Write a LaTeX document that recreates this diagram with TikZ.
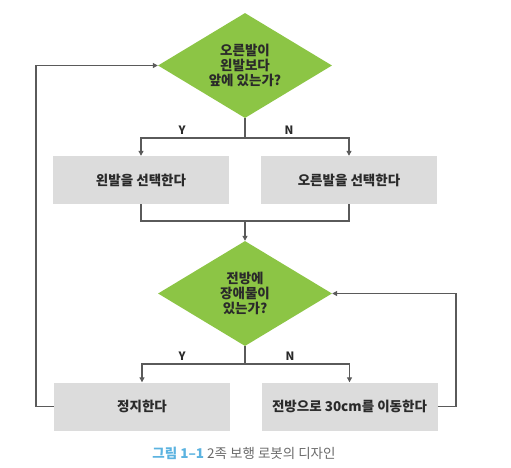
\documentclass[tikz,border=0pt]{standalone}
\usepackage{fontspec}
\setmainfont{Noto Sans CJK KR}
\usetikzlibrary{shapes.geometric,arrows.meta}
\definecolor{dgreen}{HTML}{8CC545}
\definecolor{boxgray}{HTML}{DCDCDC}
\definecolor{linegray}{HTML}{5A5A5A}
\definecolor{txt}{HTML}{2A2A2A}
\definecolor{capblue}{HTML}{5CB3E0}
\definecolor{capgray}{HTML}{6A6A6A}
\tikzset{
  decision/.style={diamond, fill=dgreen, minimum width=174pt, minimum height=105pt, inner sep=0pt, aspect=1.657, align=center, font=\fontsize{13.5}{15}\selectfont\bfseries, text=txt},
  actbox/.style={rectangle, fill=boxgray, minimum width=176pt, minimum height=48pt, inner sep=0pt, font=\fontsize{13.5}{15}\selectfont\bfseries, text=txt},
  conn/.style={draw=linegray, line width=1.1pt},
  arr/.style={conn, -{Triangle[length=5pt,width=5pt]}},
  yn/.style={font=\fontsize{11.5}{13}\selectfont\bfseries, text=txt, inner sep=0pt}
}
\begin{document}
\begin{tikzpicture}[x=1pt,y=-1pt]
\useasboundingbox (0,0) rectangle (511,467);
\node[decision] (d1) at (245,65.5) {오른발이\\왼발보다\\앞에 있는가?};
\node[actbox] (b1) at (141,180) {왼발을 선택한다};
\node[actbox] (b2) at (349,180) {오른발을 선택한다};
\node[decision] (d2) at (245,293.5) {전방에\\장애물이\\있는가?};
\node[actbox] (b3) at (142,406.5) {정지한다};
\node[actbox] (b4) at (349.5,406.5) {전방으로 30cm를 이동한다};
\node[yn] (y1) at (182,130) {Y};
\node[yn] (n1) at (289,130) {N};
\node[yn] (y2) at (182,356) {Y};
\node[yn] (n2) at (290,356) {N};
\coordinate (j1) at (245,138);
\coordinate (m1) at (245,221);
\coordinate (j2) at (245,364);
\coordinate (lx) at (36,65.5);
\coordinate (rx) at (456,293.5);
\draw[conn] (d1.south) -- (j1);
\draw[arr] (j1) -| (b1.north);
\draw[arr] (j1) -| (b2.north);
\draw[conn] (b1.south) |- (m1);
\draw[conn] (b2.south) |- (m1);
\draw[arr] (m1) -- (d2.north);
\draw[conn] (d2.south) -- (j2);
\draw[arr] (j2) -| (b3.north);
\draw[arr] (j2) -| (b4.north);
\draw[arr] (b3.west) -| (lx) -- (d1.west);
\draw[arr] (b4.east) -| (rx) -- (d2.east);
\node[font=\fontsize{13.5}{15}\selectfont, inner sep=0pt] (cap) at (244,453) {{\color{capblue}\bfseries 그림 1–1} {\color{capgray}2족 보행 로봇의 디자인}};
\end{tikzpicture}
\end{document}
